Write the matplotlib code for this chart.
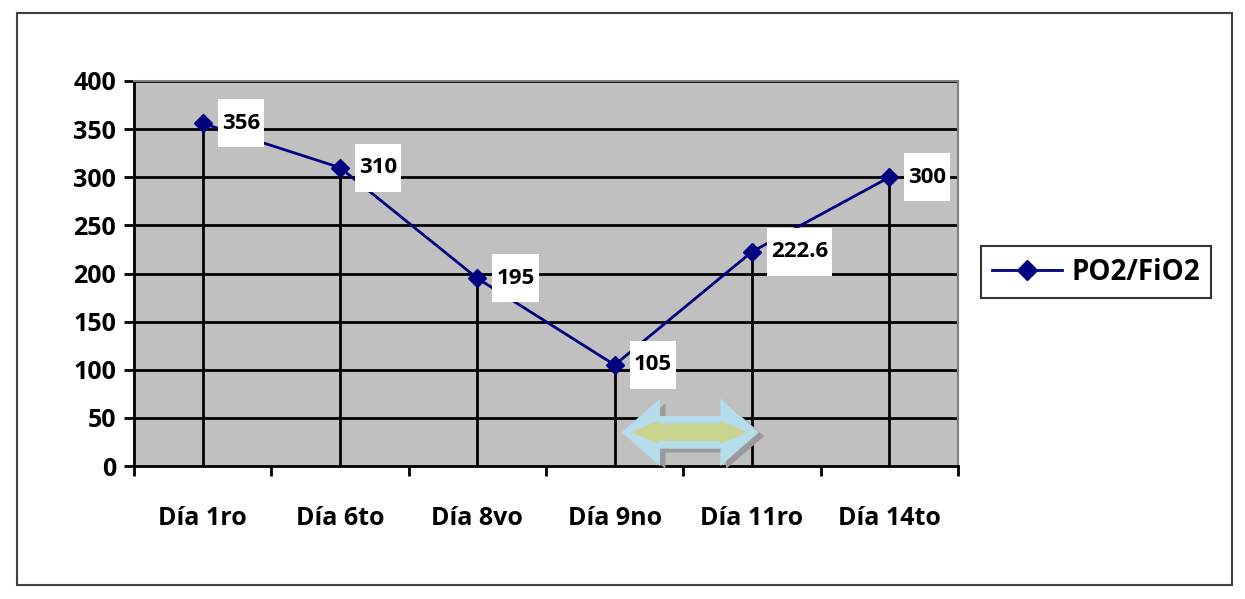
import matplotlib.pyplot as plt
import matplotlib.patches as mpatches
from matplotlib.lines import Line2D
from matplotlib.transforms import IdentityTransform

categories = ['Día 1ro', 'Día 6to', 'Día 8vo', 'Día 9no', 'Día 11ro', 'Día 14to']
values = [356, 310, 195, 105, 222.6, 300]
value_labels = ['356', '310', '195', '105', '222.6', '300']
series_name = 'PO2/FiO2'
y_ticks = [0, 50, 100, 150, 200, 250, 300, 350, 400]

NAVY = '#000080'
GRAY_BG = '#c0c0c0'

plt.rcParams['font.family'] = ['Open Sans', 'DejaVu Sans']
plt.rcParams['font.weight'] = 'bold'

fig = plt.figure(figsize=(12.45, 5.99), dpi=100)
W, H = 1245, 599
# plot area in pixels: x 134..958, y 81..466
ax = fig.add_axes([134 / W, 1 - 466 / H, (958 - 134) / W, (466 - 81) / H])
ax.set_facecolor(GRAY_BG)

n = len(categories)
xs = list(range(n))
ax.set_xlim(-0.5, n - 0.5)
ax.set_ylim(0, 400)

# grid lines
for yv in y_ticks[1:]:
    ax.axhline(yv, color='black', lw=2, zorder=1)

# drop lines
ax.vlines(xs, 0, values, color='black', lw=2, zorder=2)

ax.plot(xs, values, color=NAVY, lw=2, marker='D', markersize=9, zorder=4)

# spines
for s in ['top', 'right']:
    ax.spines[s].set_color('#808080')
    ax.spines[s].set_linewidth(1.5)
for s in ['left', 'bottom']:
    ax.spines[s].set_color('black')
    ax.spines[s].set_linewidth(2)

ax.set_yticks(y_ticks)
ax.set_yticklabels([str(v) for v in y_ticks], fontsize=18, fontweight='bold')
ax.tick_params(axis='y', length=7, width=2, pad=6)

ax.set_xticks(xs)
ax.set_xticklabels(categories, fontsize=18, fontweight='bold')
ax.tick_params(axis='x', which='major', length=0, pad=29)
ax.set_xticks([i - 0.5 for i in range(n + 1)], minor=True)
ax.tick_params(axis='x', which='minor', length=7, width=2)

# data labels
texts = []
for x, v, lab in zip(xs, values, value_labels):
    t = ax.annotate(lab, (x, v), xytext=(19, 0), textcoords='offset pixels',
                    ha='left', va='center', fontsize=16, fontweight='bold', zorder=7)
    texts.append(t)

# double arrow
def double_arrow(x0, x1, yc, shaft, head, head_len):
    return [(x0, yc), (x0 + head_len, yc + head), (x0 + head_len, yc + shaft),
            (x1 - head_len, yc + shaft), (x1 - head_len, yc + head), (x1, yc),
            (x1 - head_len, yc - head), (x1 - head_len, yc - shaft),
            (x0 + head_len, yc - shaft), (x0 + head_len, yc - head)]

ax.add_patch(mpatches.Polygon(double_arrow(3.09, 4.09, 31, 17, 34, 0.28), closed=True,
                              facecolor='#9a9a9a', edgecolor='none', zorder=3, clip_on=False))
ax.add_patch(mpatches.Polygon(double_arrow(3.05, 4.05, 35, 17, 35, 0.28), closed=True,
                              facecolor='#b4dcea', edgecolor='none', zorder=3, clip_on=False))
ax.add_patch(mpatches.Polygon(double_arrow(3.12, 3.97, 35, 9, 12, 0.2), closed=True,
                              facecolor='#c8d490', edgecolor='none', zorder=3, clip_on=False))

# legend
handle = Line2D([], [], color=NAVY, lw=2, marker='D', markersize=10)
leg = fig.legend([handle], [series_name], loc='center', bbox_to_anchor=(1096 / W, 1 - 272 / H),
                 prop={'size': 20, 'weight': 'bold'}, frameon=True, fancybox=False,
                 handlelength=2.5, handletextpad=0.35, borderpad=0.4, borderaxespad=0)
leg.get_frame().set_edgecolor('black')
leg.get_frame().set_linewidth(1.5)

# outer frame
fig.add_artist(mpatches.Rectangle((17 / W, 1 - 585 / H), (1232 - 17) / W, (585 - 13) / H,
                                  transform=fig.transFigure, fill=False,
                                  edgecolor='#404040', lw=1.5))

# white boxes behind data labels
fig.canvas.draw()
renderer = fig.canvas.get_renderer()
for t in texts:
    bb = t.get_window_extent(renderer)
    cy = (bb.y0 + bb.y1) / 2
    ax.add_patch(mpatches.Rectangle((bb.x0 - 4, cy - 24), bb.width + 8, 48,
                                    transform=IdentityTransform(), facecolor='white',
                                    edgecolor='none', zorder=6, clip_on=False))

fig.savefig('out.png', dpi=100)
